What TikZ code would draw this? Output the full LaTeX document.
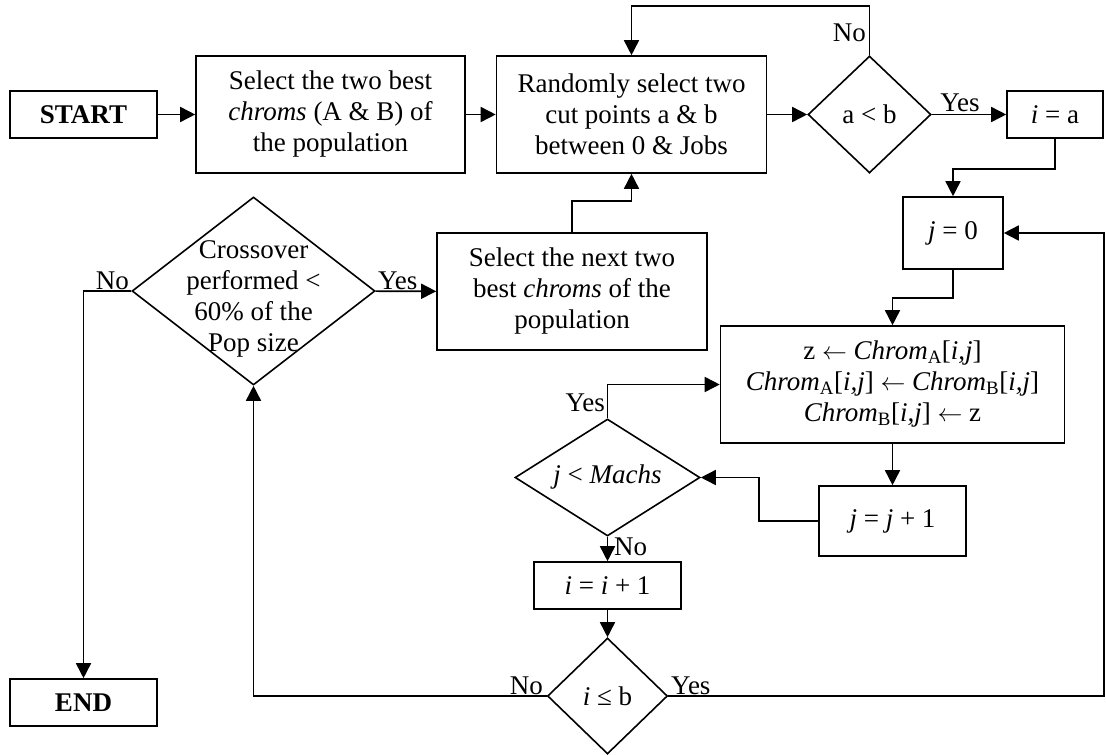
\documentclass[tikz,border=0pt]{standalone}
\usepackage{fontspec}
\setmainfont{Liberation Serif}
\usetikzlibrary{shapes.geometric,arrows.meta}
\begin{document}
\begin{tikzpicture}[x=1pt,y=-1pt,
  every node/.style={font=\fontsize{27}{31}\selectfont},
  box/.style={draw,line width=1.6pt,rectangle,inner sep=2pt,align=center},
  dia/.style={draw,line width=1.6pt,diamond,inner sep=0pt},
  txt/.style={align=center,inner sep=0pt},
  lbl/.style={inner sep=0pt},
  ln/.style={line width=1.6pt},
  arr/.style={line width=1.6pt,-{Triangle[length=15pt,width=15pt]}}]
\useasboundingbox (0,0) rectangle (1106,755);

% process boxes
\node[box,minimum width=147pt,minimum height=47pt] (start) at (83.5,114.5) {\textbf{START}};
\node[box,minimum width=269pt,minimum height=117pt] (sel2) at (330.5,114.5)
  {Select the two best\\\textit{chroms} (A \& B) of\\the population};
\node[box,minimum width=270pt,minimum height=117pt] (rand) at (631.5,114.5)
  {Randomly select two\\cut points a \& b\\between 0 \& Jobs};
\node[box,minimum width=96pt,minimum height=47pt] (ia) at (1055,114.5) {\textit{i} = a};
\node[box,minimum width=100pt,minimum height=72pt] (j0) at (953,233) {\textit{j} = 0};
\node[box,minimum width=344pt,minimum height=117pt] (swap) at (892.5,384.5)
  {z $\leftarrow$ \textit{Chrom}\textsubscript{A}[\textit{i,j}]\\
   \textit{Chrom}\textsubscript{A}[\textit{i,j}] $\leftarrow$ \textit{Chrom}\textsubscript{B}[\textit{i,j}]\\
   \textit{Chrom}\textsubscript{B}[\textit{i,j}] $\leftarrow$ z};
\node[box,minimum width=147pt,minimum height=70pt] (jinc) at (892.5,521) {\textit{j} = \textit{j} + 1};
\node[box,minimum width=147pt,minimum height=47pt] (iinc) at (607.5,585.5) {\textit{i} = \textit{i} + 1};
\node[box,minimum width=270pt,minimum height=117pt] (nxt) at (572,291.5)
  {Select the next two\\best \textit{chroms} of the\\population};
\node[box,minimum width=147pt,minimum height=47pt] (end) at (83.5,702.5) {\textbf{END}};

% decisions
\node[dia,minimum width=123pt,minimum height=117pt] (ab) at (869.5,114.5) {};
\node[txt] (abtxt) at (ab.center) {a < b};
\node[dia,minimum width=243pt,minimum height=188pt] (cross) at (253.5,291) {};
\node[txt] (crosstxt) at (253.5,299) {Crossover\\performed <\\60\% of the\\Pop size};
\node[dia,minimum width=185pt,minimum height=117pt] (machs) at (607.5,477.5) {};
\node[txt] (machstxt) at (machs.center) {\textit{j} < \textit{Machs}};
\node[dia,minimum width=120pt,minimum height=116pt] (ib) at (607.5,696) {};
\node[txt] (ibtxt) at (ib.center) {\textit{i} ≤ b};

% connectors
\draw[arr] (start) -- (sel2);
\draw[arr] (sel2) -- (rand);
\draw[arr] (rand) -- (ab);
\draw[arr] (ab.north) -- ++(0,-49) -| (rand.north);
\draw[arr] (ab) -- (ia);
\draw[arr] (ia.south) -- ++(0,30) -| (j0.north);
\draw[arr] (j0.south) -- ++(0,28) -| (swap.north);
\draw[arr] (swap.south) -- (jinc.north);
\draw[arr] (jinc.west) -- ++(-59,0) |- (machs.east);
\draw[arr] (machs.north) |- (swap.west);
\draw[arr] (machs.south) -- (iinc.north);
\draw[arr] (iinc.south) -- (ib.north);
\draw[arr] (ib.west) -| (cross.south);
\draw[arr] (ib.east) -- ++(435.5,0) |- (j0.east);
\draw[arr] (cross.west) -| (end.north);
\draw[arr] (cross) -- (nxt);
\draw[arr] (nxt.north) -- ++(0,-31) -| (rand.south);

% branch labels
\node[lbl,anchor=east] (noab) at (866,33) {No};
\node[lbl] (yesab) at (960,103) {Yes};
\node[lbl,anchor=east] (yesmachs) at (605,403) {Yes};
\node[lbl,anchor=west] (nomachs) at (614,547) {No};
\node[lbl,anchor=east] (noib) at (543,686) {No};
\node[lbl,anchor=west] (yesib) at (671,686) {Yes};
\node[lbl,anchor=east] (nocross) at (129,281) {No};
\node[lbl,anchor=west] (yescross) at (378,281) {Yes};
\end{tikzpicture}
\end{document}
